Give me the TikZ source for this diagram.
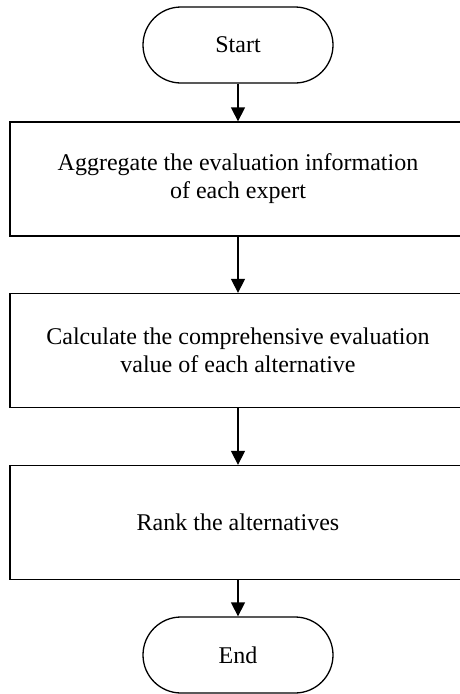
\documentclass[tikz,border=0pt]{standalone}
\usepackage{fontspec}
\setmainfont{Liberation Serif}
\usetikzlibrary{arrows.meta}
\begin{document}
\begin{tikzpicture}[x=1pt,y=-1pt,
  txt/.style={font=\fontsize{24}{28}\selectfont},
  term/.style={txt,draw,line width=1.3pt,rounded corners=38pt,minimum width=190pt,minimum height=76pt,inner sep=0pt},
  procbox/.style={txt,draw,line width=1.3pt,minimum width=456pt,minimum height=114pt,align=center,inner sep=0pt},
  arr/.style={line width=1.3pt,-{Triangle[width=14pt,length=14pt]}}
]
\useasboundingbox (0,0) rectangle (459,694);
\node[term] (start) at (238,45) {Start};
\node[procbox] (b1) at (238,179) {Aggregate the evaluation information\\of each expert};
\node[procbox] (b2) at (238,350.5) {Calculate the comprehensive evaluation\\value of each alternative};
\node[procbox] (b3) at (238,522.5) {Rank the alternatives};
\node[term] (end) at (238,655) {End};
\draw[arr] (start) -- (b1);
\draw[arr] (b1) -- (b2);
\draw[arr] (b2) -- (b3);
\draw[arr] (b3) -- (end);
\end{tikzpicture}
\end{document}
